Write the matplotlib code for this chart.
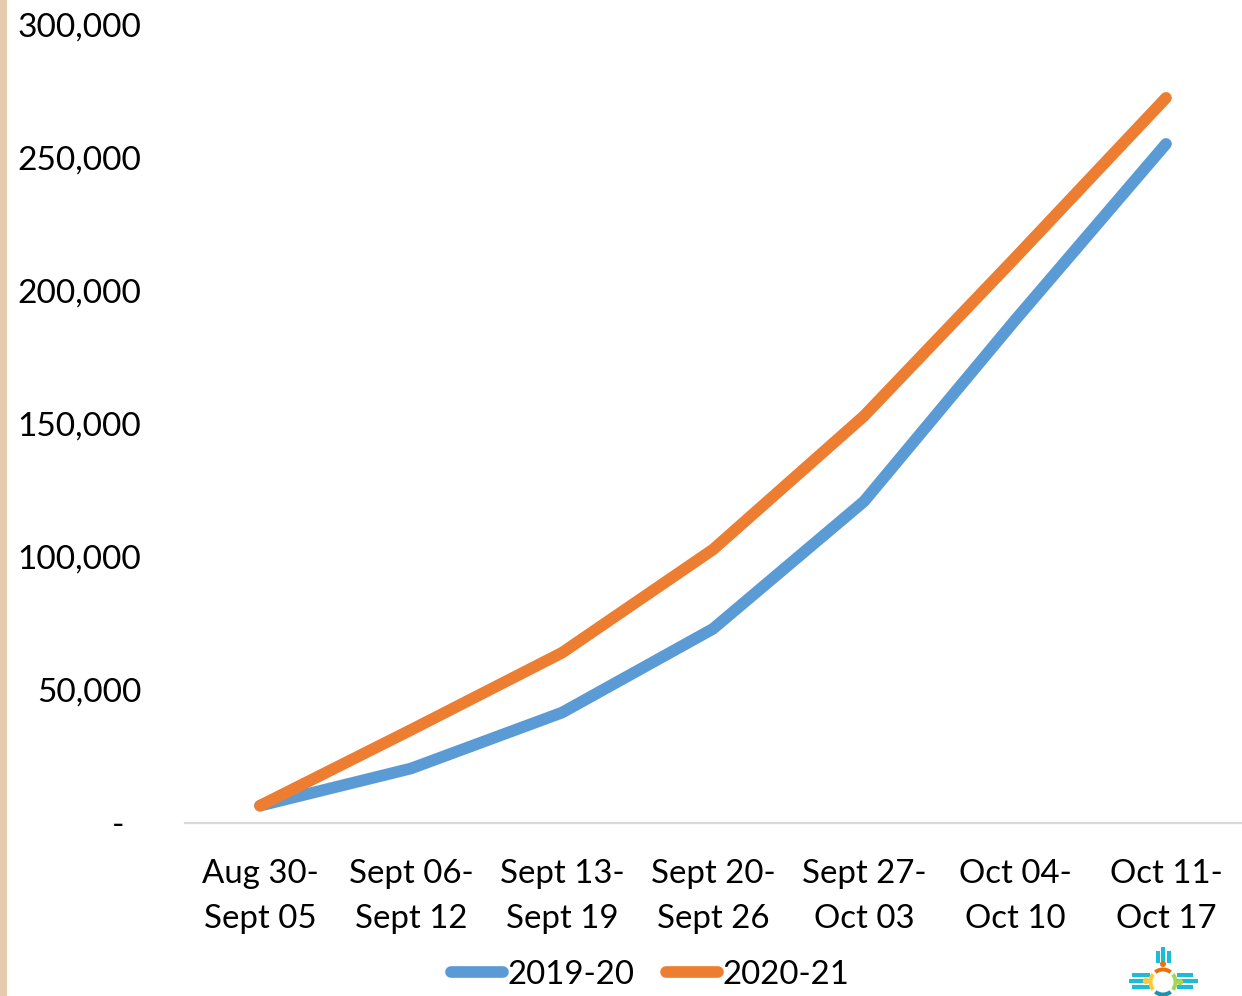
import matplotlib
matplotlib.use("Agg")
import matplotlib.pyplot as plt
from matplotlib.patches import Rectangle, Circle, Wedge
from matplotlib.ticker import FuncFormatter
from matplotlib.transforms import ScaledTranslation

plt.rcParams['font.family'] = ['Lato', 'DejaVu Sans']

categories = ["Aug 30-\nSept 05", "Sept 06-\nSept 12", "Sept 13-\nSept 19", "Sept 20-\nSept 26",
              "Sept 27-\nOct 03", "Oct 04-\nOct 10", "Oct 11-\nOct 17"]
values_2019 = [6500, 20500, 41500, 73000, 120900, 189000, 255300]
values_2020 = [6500, 35000, 64000, 102800, 153000, 212400, 272600]
y_ticks = [0, 50000, 100000, 150000, 200000, 250000, 300000]

W, H = 1242, 996
FS_Y = 24.1
FS_X = 23.8
fig = plt.figure(figsize=(W / 100, H / 100), dpi=100, facecolor="white")
ax = fig.add_axes([184.5 / W, 1 - 823 / H, 1057 / W, 798 / H])
x = list(range(len(categories)))
l1, = ax.plot(x, values_2019, color="#5B9BD5", lw=8.4, solid_capstyle="round", solid_joinstyle="round", label="2019-20")
l2, = ax.plot(x, values_2020, color="#ED7D31", lw=8.4, solid_capstyle="round", solid_joinstyle="round", label="2020-21")
ax.set_xlim(-0.5, 6.5)
ax.set_ylim(0, 300000)
ax.set_xticks(x)
ax.set_xticklabels(categories, fontsize=FS_X, linespacing=1.6, color="black")
ax.set_yticks(y_ticks)
ax.yaxis.set_major_formatter(FuncFormatter(lambda v, p: "-" if v == 0 else f"{int(v):,}"))
ax.tick_params(axis="y", length=0, labelsize=FS_Y, pad=31, labelcolor="black")
ax.tick_params(axis="x", length=0, pad=26)
for s in ("top", "right", "left"):
    ax.spines[s].set_visible(False)
ax.spines["bottom"].set_color("#D9D9D9")
ax.spines["bottom"].set_linewidth(1.6)

# fine placement of the y tick labels; the zero dash sits further left
for t, v in zip(ax.yaxis.get_major_ticks(), y_ticks):
    dx = -17 / 100 if v == 0 else 0
    t.label1.set_transform(t.label1.get_transform() + ScaledTranslation(dx, 0.5 / 100, fig.dpi_scale_trans))

fig.legend(handles=[l1, l2], loc="center", bbox_to_anchor=(650 / W, 1 - 975 / H), ncol=2, frameon=False,
           fontsize=FS_X, handlelength=1.58, handletextpad=0.14, columnspacing=0.95, borderpad=0)

# left decorative strip
fig.add_artist(Rectangle((0, 0), 6.5 / W, 1, transform=fig.transFigure, color="#E6CBAE", lw=0))

# Zia logo, drawn in pixel coordinates
logo = fig.add_axes([0, 0, 1, 1], facecolor="none")
logo.set_xlim(0, W)
logo.set_ylim(H, 0)
logo.axis("off")
cx, cy = 1163, 982
teal = "#1BBCD6"
for x0, y0, w, h in [(1155.5, 951, 4, 12), (1161, 947, 4, 16), (1167, 951, 4, 12),
                     (1132, 973, 18, 4), (1129, 979, 21, 4), (1132, 985, 18, 4),
                     (1177, 973, 16, 4), (1177, 979, 21, 4), (1177, 985, 16, 4)]:
    logo.add_patch(Rectangle((x0, y0), w, h, color=teal, lw=0))
logo.add_patch(Wedge((cx, cy), 14.5, 232, 308, width=4, color="#E8710A", lw=0))
logo.add_patch(Wedge((cx, cy), 14.5, 322, 38, width=4, color="#A5D65A", lw=0))
logo.add_patch(Wedge((cx, cy), 14.5, 52, 128, width=4, color="#1A93AE", lw=0))
logo.add_patch(Wedge((cx, cy), 14.5, 142, 218, width=4, color="#FFC934", lw=0))
logo.add_patch(Circle((1163, 964), 3, color="#E8710A", lw=0))
logo.add_patch(Circle((1146, 981), 3.2, color="#FFC934", lw=0))
logo.add_patch(Circle((1180, 982), 3.2, color="#A5D65A", lw=0))

fig.savefig("out.png", dpi=100)
